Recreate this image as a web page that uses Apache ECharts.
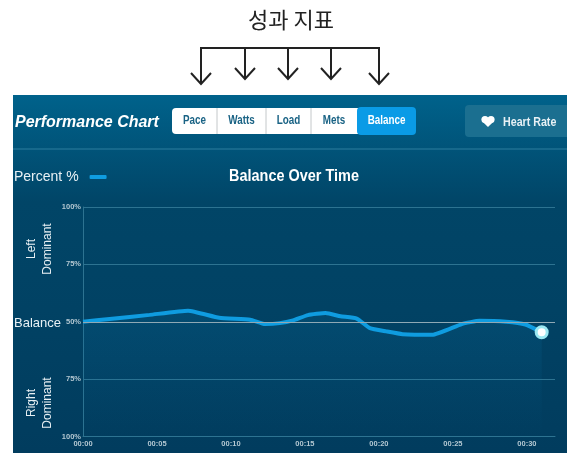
<!DOCTYPE html>
<html><head><meta charset="utf-8">
<style>html,body{margin:0;padding:0;background:#fff}#c{width:567px;height:453px}</style>
<script src="https://cdn.jsdelivr.net/npm/echarts@6/dist/echarts.min.js"></script>
</head><body><div id="c"></div>
<script>
const minutes = [0,1.8,4.5,7.1,9.2,11.3,12.3,13.3,14.2,15.2,16.4,17.4,18.5,19.4,20.5,21.6,23.6,25.6,26.8,28.6,29.9,31];
const percent = [50,51.2,53,54.8,51.7,50.9,49,49.4,50.6,52.9,53.8,52.4,51.4,47.2,45.8,44.6,44.3,49,50.4,50,48.8,45.4];
const yTickLabels = ['100%','75%','50%','75%','100%'];
const xTickLabels = ['00:00','00:05','00:10','00:15','00:20','00:25','00:30'];
const tabs = ['Pace','Watts','Load','Mets','Balance'];
const heading = '성과 지표';

const plain = '"Liberation Sans","Noto Sans",sans-serif';
const tabEdges = [172,217,266,311,357,416];
const arrowX = [[201,84],[245,79],[288,79],[331,79],[379,84]];

const g = [];
function squeezed(text,x,y,font,fill,align,sx){
  g.push({type:'text',x:x,y:y,scaleX:sx,style:{text:text,x:0,y:0,align:align,verticalAlign:'middle',font:font,fill:fill}});
}
// panel
g.push({type:'rect',z:-10,shape:{x:13,y:95,width:554,height:358},style:{fill:new echarts.graphic.LinearGradient(0,0,0,1,[
  {offset:0,color:'#00628b'},{offset:0.3,color:'#014567'},{offset:0.6,color:'#014264'},{offset:1,color:'#013c5e'}])}});
g.push({type:'line',shape:{x1:13,y1:149,x2:567,y2:149},style:{stroke:'#2d7f9f',lineWidth:1}});
// heading and arrows
g.push({type:'text',style:{text:heading,x:291,y:20,align:'center',verticalAlign:'middle',font:'22px "Noto Sans CJK KR"',fill:'#222'}});
g.push({type:'line',shape:{x1:200,y1:48,x2:380,y2:48},style:{stroke:'#222',lineWidth:2}});
arrowX.forEach(([x,end])=>{
  g.push({type:'line',shape:{x1:x,y1:48,x2:x,y2:end},style:{stroke:'#222',lineWidth:2}});
  g.push({type:'polyline',shape:{points:[[x-10,end-11],[x,end],[x+10,end-11]]},style:{stroke:'#222',lineWidth:2,fill:null}});
});
// header
squeezed('Performance Chart',15,122,'italic bold 17px '+plain,'#fff','left',0.94);
g.push({type:'rect',shape:{x:172,y:108,width:190,height:26,r:4},style:{fill:'#fff'}});
tabs.forEach((t,i)=>{
  const a=tabEdges[i],b=tabEdges[i+1],last=i===tabs.length-1;
  if(last) g.push({type:'rect',shape:{x:a,y:107,width:b-a,height:28,r:4},style:{fill:'#0a9be6'}});
  else if(i>0) g.push({type:'line',shape:{x1:a,y1:108,x2:a,y2:134},style:{stroke:'#c4c8ca',lineWidth:1}});
  squeezed(t,(a+b)/2,121,'bold 12px '+plain,last?'#fff':'#1a6385','center',0.82);
});
g.push({type:'rect',shape:{x:465,y:105,width:110,height:32,r:4},style:{fill:'#1b6f90'}});
g.push({type:'circle',shape:{cx:485,cy:119.500,r:3.6},style:{fill:'#fff'}});
g.push({type:'circle',shape:{cx:491,cy:119.500,r:3.6},style:{fill:'#fff'}});
g.push({type:'polygon',shape:{points:[[481.800,121],[494.200,121],[488,127]]},style:{fill:'#fff'}});
squeezed('Heart Rate',503,122,'bold 13px '+plain,'#e8f1f5','left',0.82);
// side labels
g.push({type:'text',style:{text:'Balance',x:14,y:323,verticalAlign:'middle',font:'13px '+plain,fill:'#e8f0f4'}});
squeezed('Balance Over Time',294,176,'bold 17px '+plain,'#fff','center',0.85);
[['Left\nDominant',40,249],['Right\nDominant',40,403]].forEach(([t,x,y])=>{
  g.push({type:'text',rotation:Math.PI/2,x:x,y:y,style:{text:t,x:0,y:0,align:'center',verticalAlign:'middle',lineHeight:16,font:'12px '+plain,fill:'#e8f0f4'}});
});

const option = {
  animation:false,
  backgroundColor:'#fff',
  legend:{left:14,top:170,align:'right',itemWidth:17,itemHeight:4,itemGap:0,icon:'roundRect',
    textStyle:{color:'#e8f0f4',fontFamily:plain,fontSize:14,padding:[0,6,0,0]},padding:0},
  grid:{left:83,top:207,width:472,height:229.5},
  xAxis:{type:'value',min:0,max:31.9,interval:5,
    axisLine:{show:true,lineStyle:{color:'#2d7391'}},axisTick:{show:false},splitLine:{show:false},
    axisLabel:{margin:3,showMaxLabel:false,fontFamily:plain,fontWeight:'bold',fontSize:7.500,color:'#b4c8d2',
      formatter:v=>xTickLabels[v/5]||''}},
  yAxis:{type:'value',min:0,max:100,interval:25,
    axisLine:{show:true,lineStyle:{color:'#2d7391'}},axisTick:{show:false},
    splitLine:{show:true,lineStyle:{color:'#2d7391'}},
    axisLabel:{margin:2,fontFamily:plain,fontWeight:'bold',fontSize:7.500,color:'#b4c8d2',
      formatter:v=>yTickLabels[v/25]}},
  graphic:{elements:g},
  series:[{
    name:'Percent %',type:'line',smooth:0.15,
    data:minutes.map((m,i)=>i===minutes.length-1
      ?{value:[m,percent[i]],symbol:'circle',symbolSize:11,itemStyle:{color:'#fff',borderColor:'#9ae8f2',borderWidth:3}}
      :{value:[m,percent[i]],symbol:'none'}),
    showSymbol:true,showAllSymbol:true,
    itemStyle:{color:'#0f9ce0'},
    lineStyle:{color:'#0f9ce0',width:4},
    areaStyle:{color:new echarts.graphic.LinearGradient(0,0,0,1,[{offset:0,color:'rgba(10,110,160,0.3)'},{offset:1,color:'rgba(10,110,160,0)'}])},
    markLine:{silent:true,symbol:'none',label:{show:false},lineStyle:{color:'#8fa9b5',width:1,type:'solid'},data:[{yAxis:50}]}
  }]
};
echarts.init(document.getElementById('c'),null,{renderer:'canvas'}).setOption(option);
</script></body></html>
